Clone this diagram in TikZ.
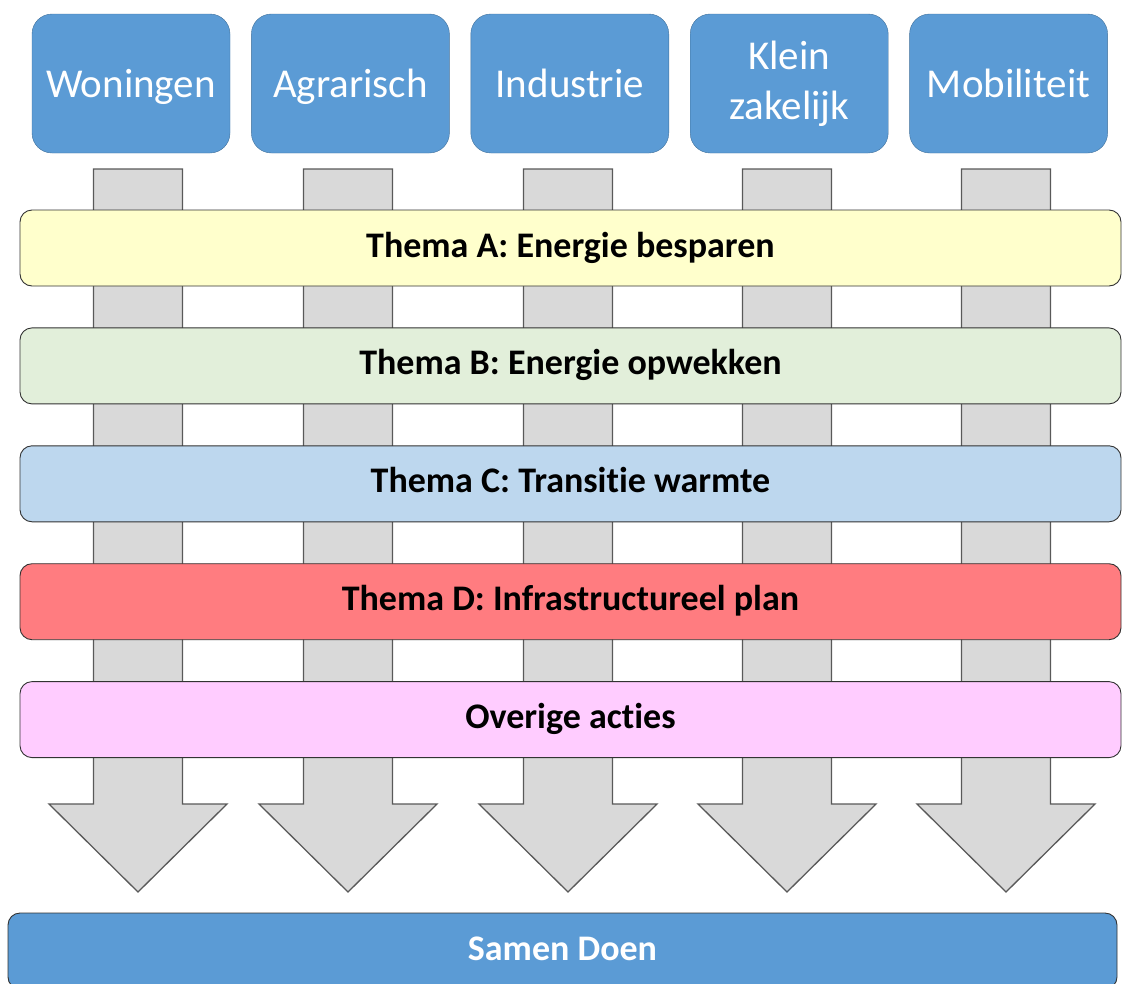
\documentclass[tikz,border=0pt]{standalone}
\usepackage{fontspec}
\setmainfont{Carlito}[Ligatures={NoCommon,NoContextual}, Contextuals=NoAlternate]
\usetikzlibrary{positioning}
\definecolor{sectorblue}{HTML}{5B9BD5}
\definecolor{sectorline}{HTML}{41719C}
\definecolor{flowgray}{HTML}{D9D9D9}
\definecolor{flowline}{HTML}{595959}
\definecolor{themeA}{HTML}{FFFFCC}
\definecolor{themeB}{HTML}{E2EFDA}
\definecolor{themeC}{HTML}{BDD7EE}
\definecolor{themeD}{HTML}{FF7C80}
\definecolor{themeE}{HTML}{FFCCFF}
\tikzset{
  sector/.style={draw=sectorline, fill=sectorblue, rounded corners=20pt,
    minimum width=198pt, minimum height=139pt, inner sep=0pt,
    text=white, align=center, font=\fontsize{41}{50}\selectfont},
  oneline/.style={text height=34pt, text depth=7pt},
  theme/.style={draw=black!80, line width=0.9pt, rounded corners=12pt,
    minimum width=1101pt, minimum height=76pt, inner sep=0pt,
    text height=25pt, text depth=7pt,
    font=\bfseries\fontsize{36}{43}\selectfont},
  flow/.style={draw=flowline, fill=flowgray, line width=1.3pt},
}
\begin{document}
\begin{tikzpicture}[x=1pt, y=-1pt]
  \useasboundingbox (0,0) rectangle (1122,983);

  % sectors
  \node[sector, oneline] (woningen) at (131,83.5) {Woningen};
  \node[sector, oneline, right=21pt of woningen] (agrarisch) {Agrarisch};
  \node[sector, oneline, right=21pt of agrarisch] (industrie) {Industrie};
  \node[sector, right=21pt of industrie] (klein) {Klein\\zakelijk};
  \node[sector, oneline, right=21pt of klein] (mobiliteit) {Mobiliteit};

  % arrows
  \foreach \cx in {138,348,568,787,1006} {
    \draw[flow] (\cx-44.5,169) -- (\cx+44.5,169) -- (\cx+44.5,804)
      -- (\cx+89,804) -- (\cx,892) -- (\cx-89,804) -- (\cx-44.5,804) -- cycle;
  }

  % themes
  \node[theme, fill=themeA] (themaA) at (570.5,248) {Thema A: Energie besparen};
  \node[theme, fill=themeB, below=41pt of themaA] (themaB) {Thema B: Energie opwekken};
  \node[theme, fill=themeC, below=41pt of themaB] (themaC) {Thema C: Transitie warmte};
  \node[theme, fill=themeD, below=41pt of themaC] (themaD) {Thema D: Infrastructureel plan};
  \node[theme, fill=themeE, below=41pt of themaD] (overige) {Overige acties};

  \node[theme, fill=sectorblue, text=white, minimum width=1109pt] (samen) at (562.5,951) {Samen Doen};

\end{tikzpicture}
\end{document}
